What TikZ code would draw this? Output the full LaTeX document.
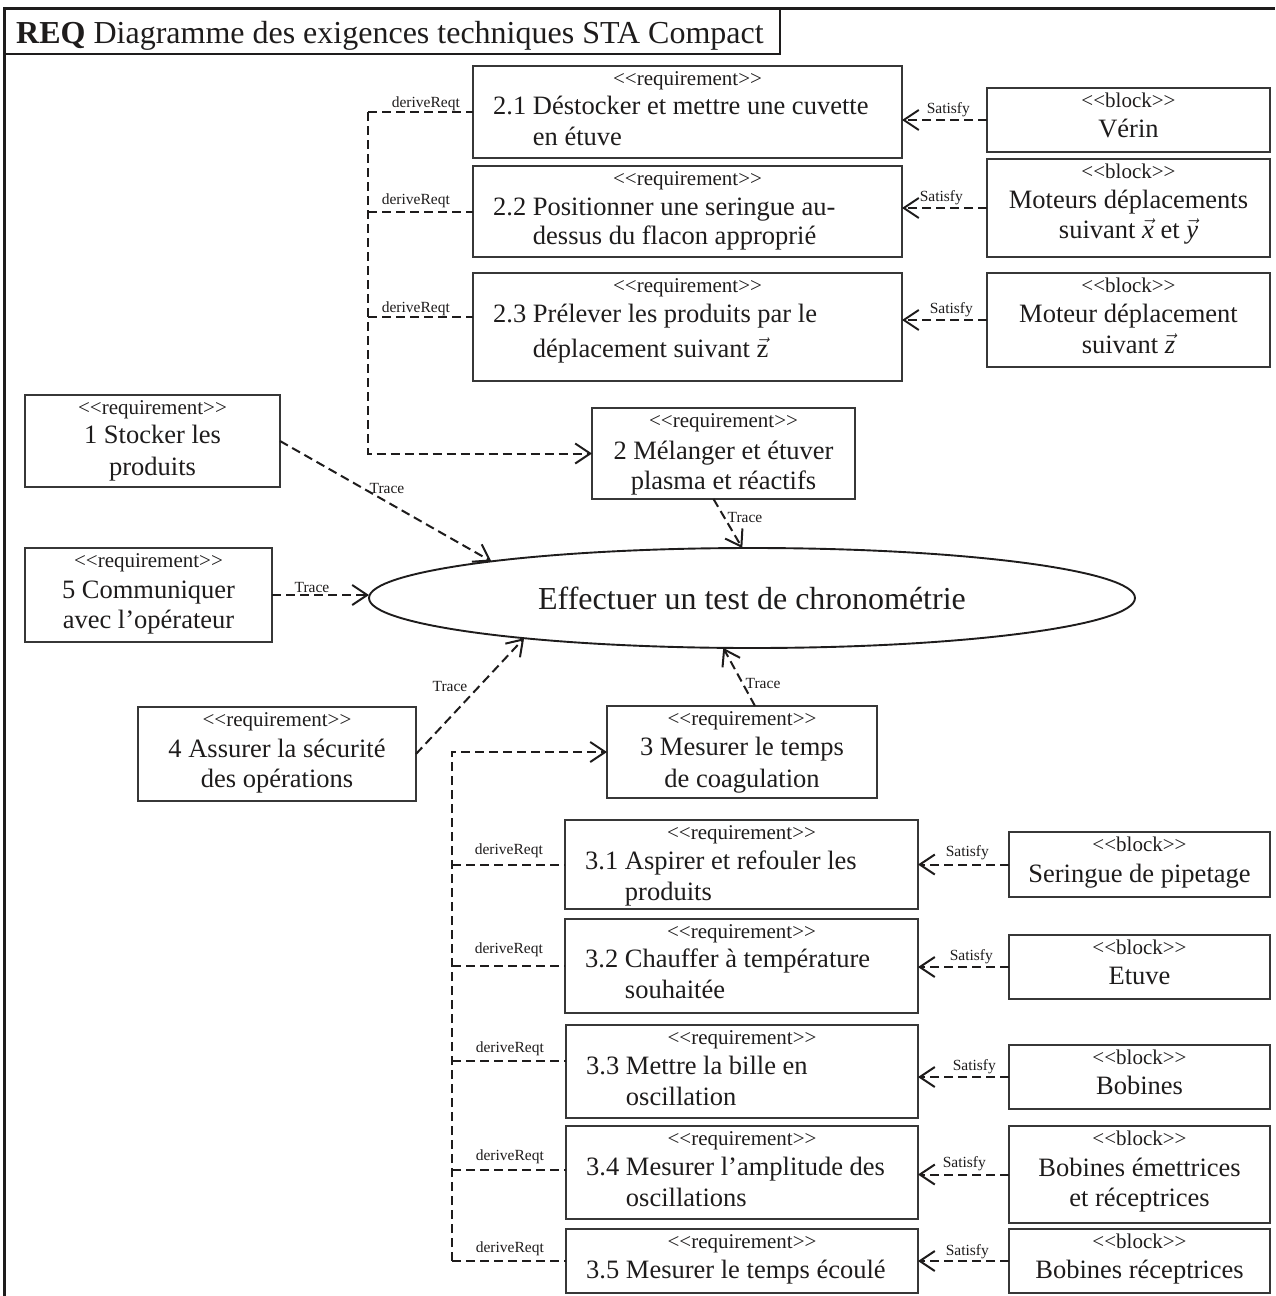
\documentclass[tikz,border=0pt]{standalone}
\usepackage{fontspec}
\setmainfont{Liberation Serif}
\usetikzlibrary{arrows.meta,shapes.geometric,calc}
\definecolor{ink}{RGB}{30,28,28}
\definecolor{edge}{RGB}{55,55,55}
\newcommand\Stereo[1]{<\kern0pt<#1>\kern0pt>}
\newcommand\MkBox[6]{%
  \node[bx, minimum width=#4pt, minimum height=#5pt] (#1) at (#2,#3) {};
  \node[st] (#1-s) at ($(#1.north)+(0,19)$) {\Stereo{#6}};}
\newcommand\TxtC[4]{\node[mt, anchor=base] (#1-#2) at ($(#1.north)+(0,#3)$) {#4};}
\newcommand\TxtH[4]{\node[mt, anchor=base west] (#1-#2) at ($(#1.north west)+(20,#3)$) {#4};}
\tikzset{
  bx/.style={draw=edge, line width=1.6pt, inner sep=0pt, outer sep=0pt, anchor=north west},
  st/.style={inner sep=0pt, anchor=base, text=ink, font=\fontsize{21}{25}\selectfont},
  mt/.style={inner sep=0pt, text=ink, font=\fontsize{26.5}{31}\selectfont},
  lbl/.style={inner sep=0pt, text=ink, font=\fontsize{15.5}{18}\selectfont},
  dsh/.style={draw=ink, dash pattern=on 9pt off 5pt, line width=2pt},
  arr/.style={-{Straight Barb[length=15pt,width=20pt]}}
}
\begin{document}
\begin{tikzpicture}[x=1pt,y=-1pt]
\useasboundingbox (0,0) rectangle (1275,1296);
% frame
\draw[ink, line width=3pt] (4,1296) -- (4,8) -- (1275,8);
\node[bx, draw=ink, line width=2.5pt, minimum width=776pt, minimum height=46pt] (tbox) at (4,8) {};
\node[inner sep=0pt, anchor=base west, text=ink, font=\fontsize{32}{37}\selectfont] (title) at (16,43) {\textbf{REQ} Diagramme des exigences techniques STA Compact};

% upper requirements
\MkBox{r21}{473}{66}{429}{92}{requirement}
\TxtH{r21}{a}{48}{2.1 Déstocker et mettre une cuvette}
\TxtH{r21}{b}{79}{\hphantom{2.1 }en étuve}
\MkBox{r22}{473}{166}{429}{91}{requirement}
\TxtH{r22}{a}{49}{2.2 Positionner une seringue au-}
\TxtH{r22}{b}{78}{\hphantom{2.2 }dessus du flacon approprié}
\MkBox{r23}{473}{273}{429}{108}{requirement}
\TxtH{r23}{a}{49}{2.3 Prélever les produits par le}
\TxtH{r23}{b}{84}{\hphantom{2.3 }déplacement suivant $\vec{\mbox{z}}$}

% upper blocks
\MkBox{vr}{987}{88}{283}{64}{block}
\TxtC{vr}{a}{49}{Vérin}
\MkBox{mx}{987}{159}{283}{98}{block}
\TxtC{mx}{a}{49}{Moteurs déplacements}
\TxtC{mx}{b}{79}{suivant $\vec{\mbox{\itshape x}}$ et $\vec{\mbox{\itshape y}}$}
\MkBox{mz}{987}{273}{283}{94}{block}
\TxtC{mz}{a}{49}{Moteur déplacement}
\TxtC{mz}{b}{80}{suivant $\vec{\mbox{\itshape z}}$}

% middle requirements
\MkBox{b2}{592}{408}{263}{91}{requirement}
\TxtC{b2}{a}{51}{2 Mélanger et étuver}
\TxtC{b2}{b}{81}{plasma et réactifs}
\MkBox{b1}{25}{395}{255}{92}{requirement}
\TxtC{b1}{a}{48}{1 Stocker les}
\TxtC{b1}{b}{80}{produits}
\MkBox{b5}{25}{548}{247}{94}{requirement}
\TxtC{b5}{a}{50}{5 Communiquer}
\TxtC{b5}{b}{80}{avec l’opérateur}
\MkBox{b4}{138}{707}{278}{94}{requirement}
\TxtC{b4}{a}{50}{4 Assurer la sécurité}
\TxtC{b4}{b}{80}{des opérations}
\MkBox{b3}{607}{706}{270}{92}{requirement}
\TxtC{b3}{a}{49}{3 Mesurer le temps}
\TxtC{b3}{b}{81}{de coagulation}

% use case
\node[ellipse, draw=ink, line width=1.9pt, minimum width=766pt, minimum height=100pt, inner sep=0pt, outer sep=0pt, text=ink, font=\fontsize{32}{38}\selectfont] (uc) at (752,598) {Effectuer un test de chronométrie};

% lower requirements
\MkBox{r31}{565}{820}{353}{89}{requirement}
\TxtH{r31}{a}{49}{3.1 Aspirer et refouler les}
\TxtH{r31}{b}{80}{\hphantom{3.1 }produits}
\MkBox{r32}{565}{919}{353}{94}{requirement}
\TxtH{r32}{a}{48}{3.2 Chauffer à température}
\TxtH{r32}{b}{79}{\hphantom{3.2 }souhaitée}
\MkBox{r33}{566}{1025}{352}{93}{requirement}
\TxtH{r33}{a}{49}{3.3 Mettre la bille en}
\TxtH{r33}{b}{80}{\hphantom{3.3 }oscillation}
\MkBox{r34}{566}{1126}{352}{93}{requirement}
\TxtH{r34}{a}{49}{3.4 Mesurer l’amplitude des}
\TxtH{r34}{b}{80}{\hphantom{3.4 }oscillations}
\MkBox{r35}{566}{1229}{352}{64}{requirement}
\TxtH{r35}{a}{49}{3.5 Mesurer le temps écoulé}

% lower blocks
\MkBox{sp}{1009}{832}{261}{65}{block}
\TxtC{sp}{a}{50}{Seringue de pipetage}
\MkBox{et}{1009}{935}{261}{64}{block}
\TxtC{et}{a}{49}{Etuve}
\MkBox{bo}{1009}{1045}{261}{64}{block}
\TxtC{bo}{a}{49}{Bobines}
\MkBox{be}{1009}{1126}{261}{97}{block}
\TxtC{be}{a}{50}{Bobines émettrices}
\TxtC{be}{b}{80}{et réceptrices}
\MkBox{br}{1009}{1229}{261}{64}{block}
\TxtC{br}{a}{49}{Bobines réceptrices}

% upper deriveReqt tree
\coordinate (tU) at (368,0);
\coordinate (r23in) at ($(r23.west)+(0,-10)$);
\draw[dsh, arr] (tU |- r21.west) -- (tU |- b2.west) -- (b2.west);
\draw[dsh] (tU |- r21.west) -- (r21.west);
\draw[dsh] (tU |- r22.west) -- (r22.west);
\draw[dsh] (tU |- r23in) -- (r23in);
\node[lbl, anchor=base east] (d21) at ($(r21.west)+(-13,-5)$) {deriveReqt};
\node[lbl, anchor=base east] (d22) at ($(r22.west)+(-23,-7)$) {deriveReqt};
\node[lbl, anchor=base east] (d23) at ($(r23in)+(-23,-5)$) {deriveReqt};

% lower deriveReqt tree
\coordinate (tL) at (452,0);
\coordinate (r33in) at ($(r33.west)+(0,-11)$);
\coordinate (r34in) at ($(r34.west)+(0,-3)$);
\draw[dsh, arr] (tL |- r35.west) -- (tL |- b3.west) -- (b3.west);
\draw[dsh] (tL |- r31.west) -- (r31.west);
\draw[dsh] (tL |- r32.west) -- (r32.west);
\draw[dsh] (tL |- r33in) -- (r33in);
\draw[dsh] (tL |- r34in) -- (r34in);
\draw[dsh] (tL |- r35.west) -- (r35.west);
\node[lbl, anchor=base east] (d31) at ($(r31.west)+(-22,-10)$) {deriveReqt};
\node[lbl, anchor=base east] (d32) at ($(r32.west)+(-22,-13)$) {deriveReqt};
\node[lbl, anchor=base east] (d33) at ($(r33in)+(-22,-8)$) {deriveReqt};
\node[lbl, anchor=base east] (d34) at ($(r34in)+(-22,-9)$) {deriveReqt};
\node[lbl, anchor=base east] (d35) at ($(r35.west)+(-22,-9)$) {deriveReqt};

% satisfy
\draw[dsh, arr] (vr.west) -- (vr.west -| r21.east);
\draw[dsh, arr] (mx.west) -- (mx.west -| r22.east);
\draw[dsh, arr] (mz.west) -- (mz.west -| r23.east);
\draw[dsh, arr] (sp.west) -- (sp.west -| r31.east);
\draw[dsh, arr] (et.west) -- (et.west -| r32.east);
\draw[dsh, arr] (bo.west) -- (bo.west -| r33.east);
\draw[dsh, arr] (be.west) -- (be.west -| r34.east);
\draw[dsh, arr] (br.west) -- (br.west -| r35.east);
\node[lbl, anchor=base east] (s1) at ($(vr.west)+(-17,-7)$) {Satisfy};
\node[lbl, anchor=base east] (s2) at ($(mx.west)+(-24,-7)$) {Satisfy};
\node[lbl, anchor=base east] (s3) at ($(mz.west)+(-14,-7)$) {Satisfy};
\node[lbl, anchor=base east] (s4) at ($(sp.west)+(-20,-8)$) {Satisfy};
\node[lbl, anchor=base east] (s5) at ($(et.west)+(-16,-7)$) {Satisfy};
\node[lbl, anchor=base east] (s6) at ($(bo.west)+(-13,-7)$) {Satisfy};
\node[lbl, anchor=base east] (s7) at ($(be.west)+(-23,-7)$) {Satisfy};
\node[lbl, anchor=base east] (s8) at ($(br.west)+(-20,-6)$) {Satisfy};

% trace
\draw[dsh, arr] (b1.east) -- (uc.172.7);
\draw[dsh, arr] (b5.east) -- (b5.east -| uc.west);
\draw[dsh, arr] (b4.east) -- (uc.190.9);
\draw[dsh, arr] ([xshift=-10pt]b2.south) -- (uc.101.1);
\draw[dsh, arr] ([xshift=13pt]b3.north) -- (uc.240.9);
\node[lbl] (t1) at (387,488) {Trace};
\node[lbl] (t5) at (312,587) {Trace};
\node[lbl] (t4) at (450,686) {Trace};
\node[lbl] (t2) at (745,517) {Trace};
\node[lbl] (t3) at (763,683) {Trace};
\end{tikzpicture}
\end{document}
